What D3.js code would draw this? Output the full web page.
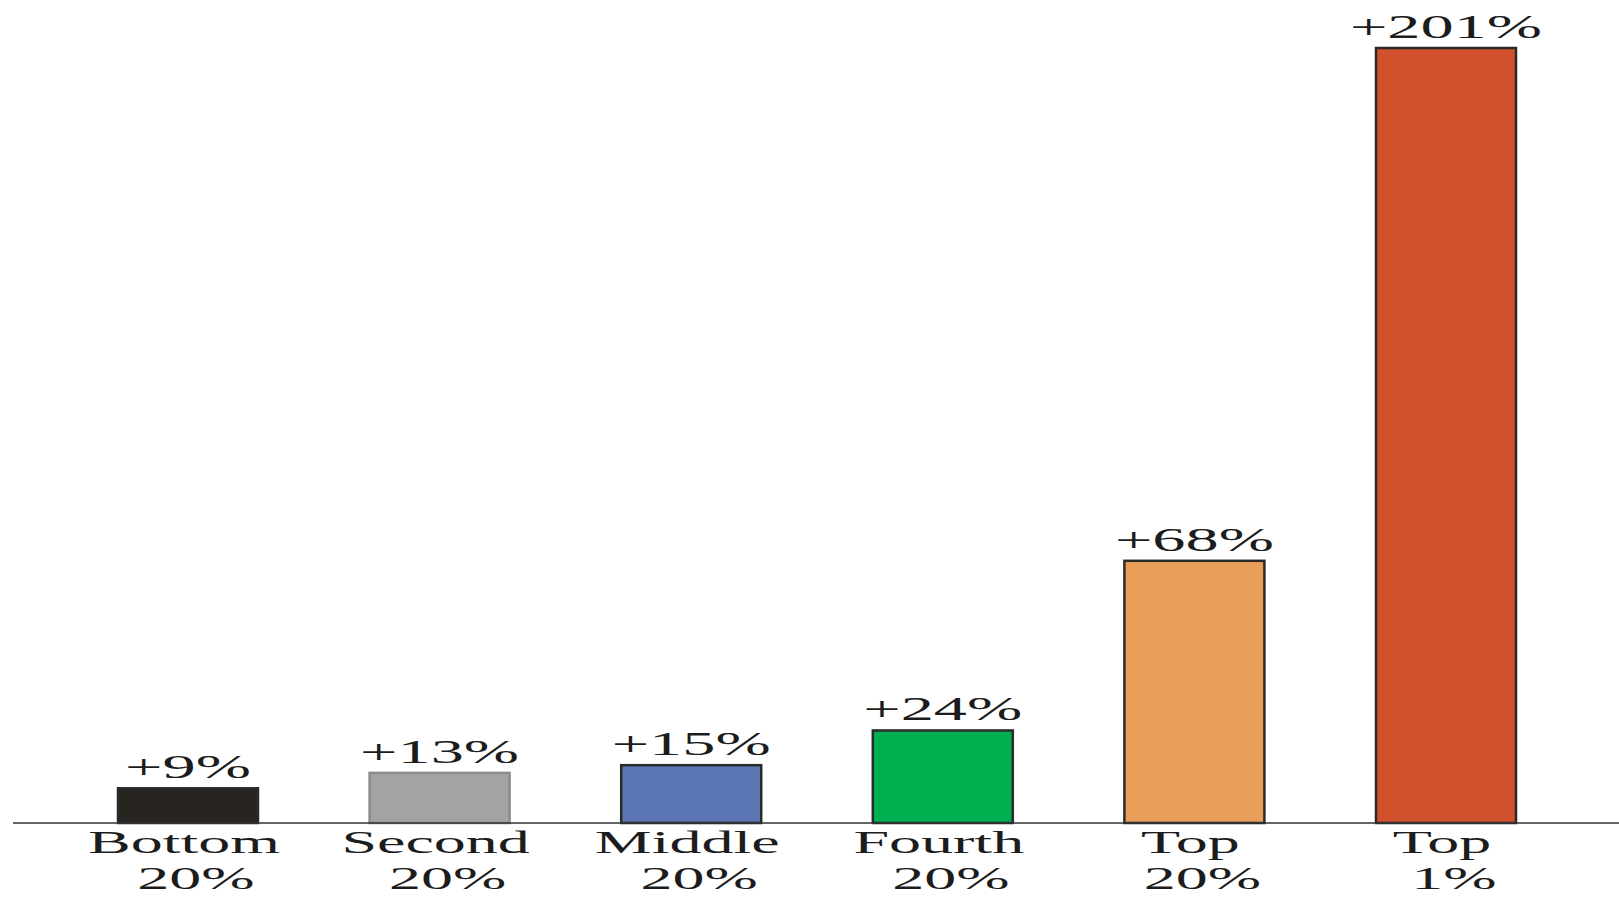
<!DOCTYPE html>
<html>
<head>
<meta charset="utf-8">
<script src="https://cdn.jsdelivr.net/npm/d3@7"></script>
<style>
  body { margin: 0; background: #fff; overflow: hidden; }
  svg { display: block; }
  text { font-family: "Liberation Serif", "DejaVu Serif", serif; fill: #1c1c1c; }
</style>
</head>
<body>
<div id="grafica"></div>
<script>
// datos
var grupos = ["Bottom 20%", "Second 20%", "Middle 20%", "Fourth 20%", "Top 20%", "Top 1%"];
var linea1 = ["Bottom", "Second", "Middle", "Fourth", "Top", "Top"];
var linea2 = ["20%", "20%", "20%", "20%", "20%", "1%"];
var cambio = [9, 13, 15, 24, 68, 201];
var colores = ["#282521", "#a3a3a3", "#5b76b2", "#00b050", "#e99f5a", "#d0512b"];
var bordes = ["#2a2a2a", "#8c8c8c", "#2a2a2a", "#2a2a2a", "#2a2a2a", "#2a2a2a"];

var W = 1619, H = 897;
var base = 823, barW = 140;

var svg = d3.select("#grafica")
  .append("svg")
  .attr("width", W)
  .attr("height", H);

// escalas
var x = d3.scalePoint()
  .domain(grupos)
  .range([188, 1446]);

var y = d3.scaleLinear()
  .domain([0, 201])
  .range([base, 48]);

// barras
svg.selectAll(".bar")
  .data(grupos)
  .enter()
  .append("rect")
  .attr("class", "bar")
  .attr("x", function(d) { return x(d) - barW / 2; })
  .attr("y", function(d, i) { return y(cambio[i]); })
  .attr("width", barW)
  .attr("height", function(d, i) { return base - y(cambio[i]); })
  .attr("fill", function(d, i) { return colores[i]; })
  .attr("stroke", function(d, i) { return bordes[i]; })
  .attr("stroke-width", 2.5);

// eje x (solo la linea)
var eje = svg.append("g")
  .attr("transform", "translate(0," + base + ")")
  .call(d3.axisBottom(x).tickSize(0).tickFormat(""));
eje.select(".domain")
  .attr("d", "M13,0H" + W)
  .attr("stroke", "#333")
  .attr("stroke-width", 1.6);

// texto estirado horizontalmente como en el original
function estirado(sel, sx) {
  sel.each(function() {
    var t = d3.select(this);
    t.attr("textLength", this.getComputedTextLength() * sx)
     .attr("lengthAdjust", "spacingAndGlyphs");
  });
}

// etiquetas de valor
svg.selectAll(".valor")
  .data(grupos)
  .enter()
  .append("text")
  .attr("class", "valor")
  .attr("x", function(d) { return x(d); })
  .attr("y", function(d, i) { return y(cambio[i]) - 10; })
  .attr("text-anchor", "middle")
  .style("font-size", "34px")
  .text(function(d, i) { return "+" + cambio[i] + "%"; })
  .call(estirado, 1.95);

// etiquetas de categoria
svg.selectAll(".cat1")
  .data(grupos)
  .enter()
  .append("text")
  .attr("class", "cat1")
  .attr("x", function(d) { return x(d) - 4; })
  .attr("y", base + 30)
  .attr("text-anchor", "middle")
  .style("font-size", "32px")
  .text(function(d, i) { return linea1[i]; })
  .call(estirado, 2.0);

svg.selectAll(".cat2")
  .data(grupos)
  .enter()
  .append("text")
  .attr("class", "cat2")
  .attr("x", function(d) { return x(d) + 8; })
  .attr("y", base + 66)
  .attr("text-anchor", "middle")
  .style("font-size", "32px")
  .text(function(d, i) { return linea2[i]; })
  .call(estirado, 2.0);
</script>
</body>
</html>
